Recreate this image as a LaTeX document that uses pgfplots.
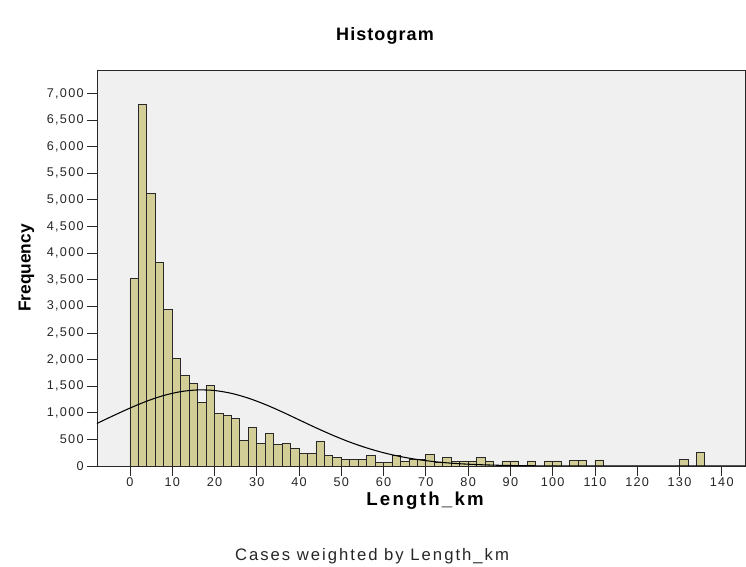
\documentclass[border=0pt]{standalone}
\usepackage{pgfplots}
\pgfplotsset{compat=1.18}
\usepackage{fontspec}
\setmainfont{Liberation Sans}
\newfontfamily\spssticks{Liberation Sans}[LetterSpace=10]
\newfontfamily\spsstitle{Liberation Sans}[LetterSpace=6]
\newfontfamily\spssxlab{Liberation Sans}[LetterSpace=12]
\newfontfamily\spssfoot{Liberation Sans}[LetterSpace=12]
\newfontfamily\plainsans{Liberation Sans}
\definecolor{barfill}{RGB}{211,206,152}
\definecolor{bgfill}{RGB}{240,240,240}
\definecolor{edge}{RGB}{40,40,40}
\begin{document}
\begin{tikzpicture}
\path[use as bounding box] (-72.75pt,-75.75pt) rectangle (486.75pt,349.5pt);
\begin{axis}[
  at={(0,0)}, anchor=south west,
  scale only axis, width=486pt, height=297pt,
  xmin=-7.8, xmax=145.5, ymin=0, ymax=7440,
  axis background/.style={fill=bgfill},
  axis line style={draw=edge, line width=0.6pt},
  xtick={0,10,...,140},
  ytick={0,500,...,7000},
  tick pos=left, tick align=outside,
  major tick length=7.5pt,
  tick style={draw=edge, line width=0.6pt},
  /pgf/number format/assume math mode=true,
  /pgf/number format/1000 sep={,},
  ticklabel style={font=\spssticks\fontsize{9.5}{11}\selectfont, text=black!85},
  xticklabel style={inner sep=1pt},
  yticklabel style={xshift=1pt},
  clip=true,
]
\addplot[ybar interval, fill=barfill, draw=edge, line width=0.6pt] coordinates {
(0,3520) (2,6800) (4,5120) (6,3830) (8,2940) (10,2020) (12,1700) (14,1550)
(16,1190) (18,1520) (20,980) (22,950) (24,890) (26,480) (28,720) (30,420)
(32,610) (34,410) (36,430) (38,330) (40,230) (42,230) (44,460) (46,200)
(48,160) (50,120) (52,120) (54,125) (56,190) (58,75) (60,75) (62,190)
(64,95) (66,125) (68,125) (70,220) (72,75) (74,155) (76,80) (78,94)
(80,94) (82,165) (84,94) (86,0) (88,94) (90,94) (92,0) (94,94)
(96,0) (98,94) (100,94) (102,0) (104,110) (106,110) (108,0) (110,113)
(112,0) (114,0) (116,0) (118,0) (120,0) (122,0) (124,0) (126,0) (128,0)
(130,120) (132,0) (134,260) (136,0)
};
\addplot[smooth, black, line width=0.8pt] coordinates {
(-8,792) (-4,943) (0,1088) (4,1219) (8,1325) (12,1397) (16,1429) (20,1418)
(24,1365) (28,1275) (32,1156) (36,1017) (40,867) (44,718) (48,577) (52,449)
(56,340) (60,249) (64,177) (68,122) (72,82) (76,53) (80,34) (84,21)
(88,12) (92,7) (96,4) (100,2) (104,1) (110,0) (120,0) (130,0) (146,0)
};
\end{axis}
\node[anchor=base, font=\spsstitle\bfseries\fontsize{13.5}{15}\selectfont] at (216pt,318.75pt) {Histogram};
\node[anchor=base, font=\spssxlab\bfseries\fontsize{14}{16}\selectfont] at (246pt,-29.5pt) {Length\_km};
\node[anchor=base, font=\spssfoot\fontsize{12.5}{14}\selectfont, text=black!85] at (206.25pt,-71.25pt) {Cases weighted by Length\_km};
\node[anchor=base, rotate=90, font=\plainsans\bfseries\fontsize{13}{15}\selectfont] at (-49.7pt,148.5pt) {Frequency};
\end{tikzpicture}
\end{document}
